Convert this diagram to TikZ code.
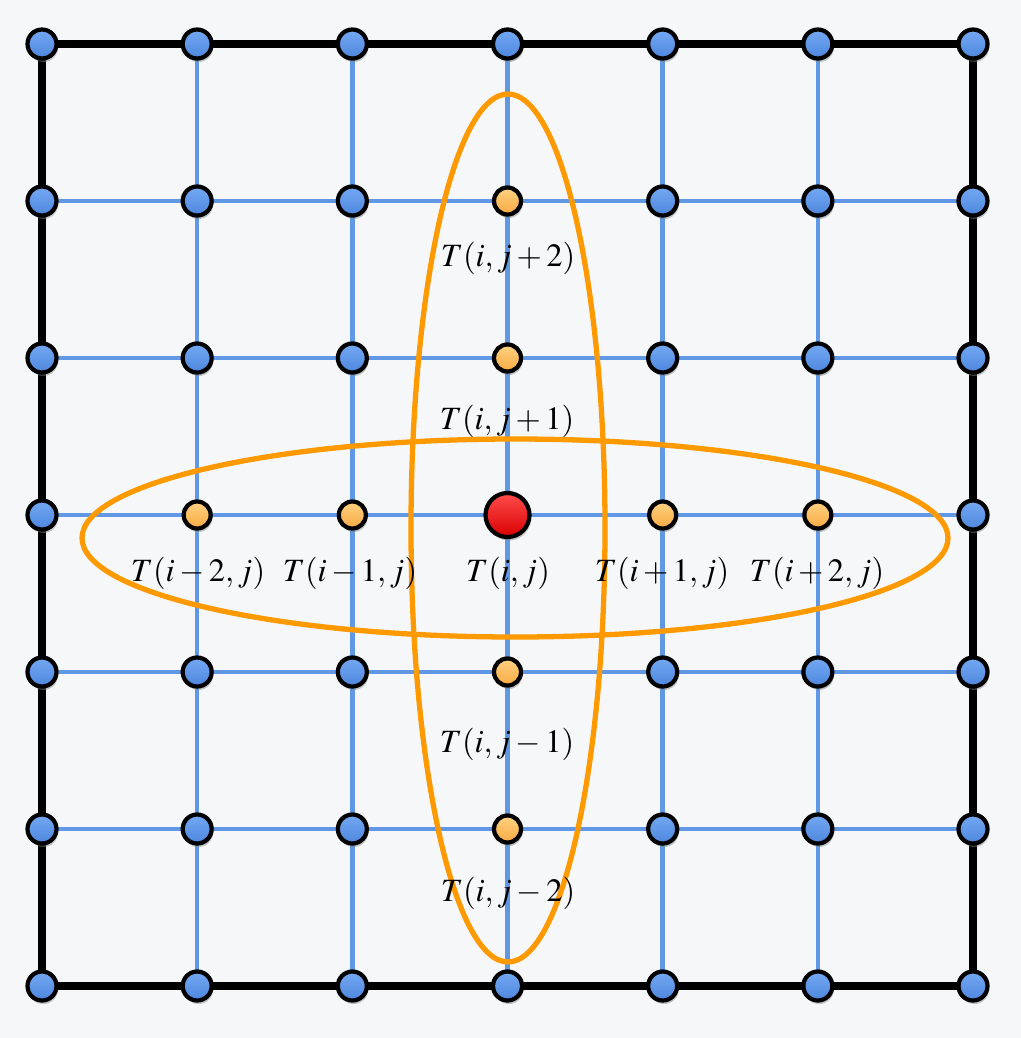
\documentclass[tikz,border=0pt]{standalone}
\usepackage{amsmath}
\usepackage{mathptmx}
\usetikzlibrary{positioning, shadows}

\definecolor{bgcol}{HTML}{F6F7F9}
\definecolor{gridblue}{HTML}{6098E6}
\definecolor{ringorange}{HTML}{FF9900}
\definecolor{bluetop}{HTML}{74A9F2}
\definecolor{bluebot}{HTML}{4D86DE}
\definecolor{orangetop}{HTML}{FFD282}
\definecolor{orangebot}{HTML}{F8AA42}

\begin{document}
\begin{tikzpicture}[x=0.02cm, y=-0.02cm,
    ball/.style={circle, draw=black, line width=2.4pt, inner sep=0pt,
        drop shadow={shadow xshift=0.8pt, shadow yshift=-2pt, opacity=0.45}},
    bluept/.style={ball, minimum size=0.58cm, top color=bluetop, bottom color=bluebot},
    orangept/.style={ball, minimum size=0.54cm, top color=orangetop, bottom color=orangebot},
    redpt/.style={ball, minimum size=0.88cm, top color=red!70, bottom color=red!85!black},
    lbl/.style={font=\fontsize{18.5}{22}\selectfont, inner sep=0pt}]
    \useasboundingbox[fill=bgcol] (0,0) rectangle (1021,1038);
    % grid points
    \foreach \i in {0,...,6}
        \foreach \j in {0,...,6}
            \coordinate (p\i\j) at ({42+155.17*\i},{44+157*\j});
    % inner lines
    \foreach \k in {1,...,5} {
        \draw[gridblue, line width=2.5pt] (p\k0) -- (p\k6);
        \draw[gridblue, line width=2.5pt] (p0\k) -- (p6\k);
    }
    % boundary
    \draw[line width=5pt] (p00) -- (p60) -- (p66) -- (p06) -- cycle;
    % stencils
    \draw[ringorange, line width=3pt] (515,538) ellipse [x radius=433, y radius=99];
    \draw[ringorange, line width=3pt] (508,528) ellipse [x radius=97, y radius=434];
    % points
    \foreach \i in {0,...,6}
        \foreach \j in {0,...,6} {
            \ifnum\i=3
                \ifnum\j=3
                    \node[redpt] (n\i\j) at (p\i\j) {};
                \else
                    \ifnum\j=0 \node[bluept] (n\i\j) at (p\i\j) {};
                    \else\ifnum\j=6 \node[bluept] (n\i\j) at (p\i\j) {};
                    \else \node[orangept] (n\i\j) at (p\i\j) {};
                    \fi\fi
                \fi
            \else
                \ifnum\j=3
                    \ifnum\i=0 \node[bluept] (n\i\j) at (p\i\j) {};
                    \else\ifnum\i=6 \node[bluept] (n\i\j) at (p\i\j) {};
                    \else \node[orangept] (n\i\j) at (p\i\j) {};
                    \fi\fi
                \else
                    \node[bluept] (n\i\j) at (p\i\j) {};
                \fi
            \fi
        }
    % labels
    \node[lbl] (tj2) at (508,258) {$T(i,j+2)$};
    \node[lbl] (tj1) at (507,421) {$T(i,j+1)$};
    \node[lbl] (tc)  at (508,573) {$T(i,j)$};
    \node[lbl] (ti2m) at (198,573) {$T(i-2,j)$};
    \node[lbl] (ti1m) at (350,573) {$T(i-1,j)$};
    \node[lbl] (ti1) at (662,573) {$T(i+1,j)$};
    \node[lbl] (ti2) at (817,573) {$T(i+2,j)$};
    \node[lbl] (tj1m) at (507,744) {$T(i,j-1)$};
    \node[lbl] (tj2m) at (508,893) {$T(i,j-2)$};
\end{tikzpicture}
\end{document}
